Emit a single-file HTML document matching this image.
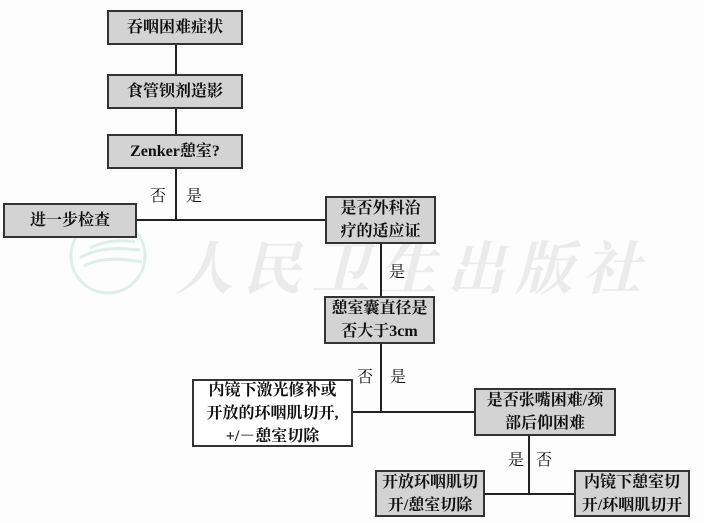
<!DOCTYPE html>
<html><head><meta charset="utf-8"><style>
body{margin:0;width:704px;height:523px;background:#fdfdfd;position:relative;overflow:hidden;font-family:"Liberation Serif","Noto Serif CJK SC",serif;}
.b{position:absolute;box-sizing:border-box;border:2px solid #333;background:#d3d3d3;display:flex;align-items:center;justify-content:center;text-align:center;font-weight:bold;font-size:16px;line-height:23px;color:#111;}
.w{background:#fff;}
.l{position:absolute;background:#222;}
.t{position:absolute;font-size:16px;color:#111;line-height:16px;}
.wm{position:absolute;left:175px;top:222px;font-size:58px;color:#ebebeb;font-style:italic;letter-spacing:10px;font-family:"Noto Serif CJK SC",serif;font-weight:bold;white-space:nowrap;}
</style></head><body>
<svg style="position:absolute;left:0;top:0" width="704" height="523">
<circle cx="108" cy="256" r="37" fill="none" stroke="#dcefea" stroke-width="3"/>
<path d="M80 258 Q100 245 140 250 M84 266 Q105 255 142 262 M90 248 Q110 238 135 242" stroke="#dcefea" stroke-width="3" fill="none"/>
</svg>
<div class="wm">人民卫生出版社</div>
<div class="l" style="left:175px;top:45px;width:2px;height:124px"></div>
<div class="l" style="left:175px;top:168px;width:2px;height:52px"></div>
<div class="l" style="left:137px;top:219px;width:188px;height:2px"></div>
<div class="l" style="left:380px;top:243px;width:2px;height:53px"></div>
<div class="l" style="left:380px;top:343px;width:2px;height:70px"></div>
<div class="l" style="left:353px;top:411px;width:121px;height:2px"></div>
<div class="l" style="left:528px;top:435px;width:2px;height:59px"></div>
<div class="l" style="left:485px;top:493px;width:89px;height:2px"></div>
<div class="b" style="left:107px;top:10px;width:136px;height:35px">吞咽困难症状</div>
<div class="b" style="left:107px;top:74px;width:136px;height:35px">食管钡剂造影</div>
<div class="b" style="left:107px;top:134px;width:136px;height:35px">Zenker憩室?</div>
<div class="b" style="left:3px;top:203px;width:134px;height:35px">进一步检查</div>
<div class="b" style="left:325px;top:196px;width:111px;height:48px">是否外科治<br>疗的适应证</div>
<div class="b" style="left:324px;top:296px;width:111px;height:48px">憩室囊直径是<br>否大于3cm</div>
<div class="b w" style="left:192px;top:379px;width:161px;height:68px">内镜下激光修补或<br>开放的环咽肌切开,<br>+/－憩室切除</div>
<div class="b" style="left:474px;top:388px;width:142px;height:48px">是否张嘴困难/颈<br>部后仰困难</div>
<div class="b" style="left:375px;top:470px;width:110px;height:47px">开放环咽肌切<br>开/憩室切除</div>
<div class="b" style="left:574px;top:470px;width:116px;height:47px">内镜下憩室切<br>开/环咽肌切开</div>
<div class="t" style="left:150px;top:189px">否</div>
<div class="t" style="left:186px;top:189px">是</div>
<div class="t" style="left:389px;top:265px">是</div>
<div class="t" style="left:357px;top:370px">否</div>
<div class="t" style="left:390px;top:370px">是</div>
<div class="t" style="left:508px;top:453px">是</div>
<div class="t" style="left:536px;top:453px">否</div>
</body></html>
